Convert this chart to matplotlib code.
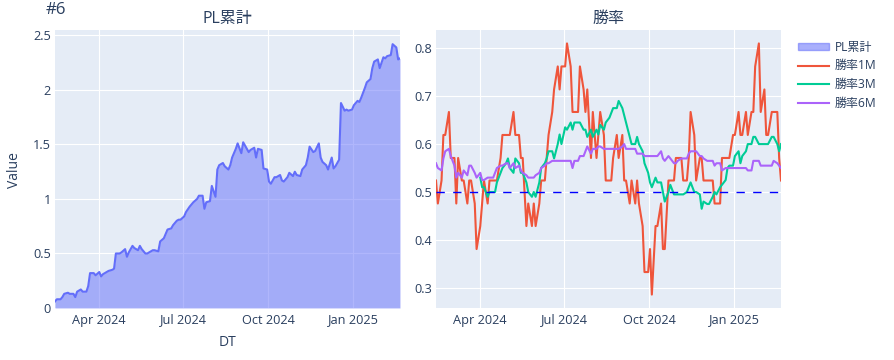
import numpy as np
import pandas as pd
import matplotlib
matplotlib.use('Agg')
import matplotlib.pyplot as plt
import matplotlib.dates as mdates
from matplotlib.patches import Patch
from matplotlib.lines import Line2D
from matplotlib.ticker import FuncFormatter

plt.rcParams['font.family'] = ['Open Sans', 'Noto Sans CJK JP', 'DejaVu Sans']

# every second business day from 2024-02-13
dates = pd.bdate_range('2024-02-13', '2025-02-21')[::2]

pl_cum = [0.06, 0.08, 0.08, 0.10, 0.13, 0.14, 0.13, 0.13, 0.10, 0.15,
          0.17, 0.15, 0.15, 0.20, 0.32, 0.32, 0.30, 0.33, 0.29, 0.31,
          0.33, 0.34, 0.35, 0.36, 0.50, 0.50, 0.51, 0.54, 0.47, 0.51,
          0.57, 0.55, 0.53, 0.57, 0.54, 0.50, 0.50, 0.52, 0.53, 0.53,
          0.52, 0.61, 0.64, 0.68, 0.72, 0.73, 0.76, 0.80, 0.81, 0.81,
          0.84, 0.88, 0.93, 0.95, 0.97, 1.00, 1.03, 1.03, 0.91, 0.97,
          0.98, 1.12, 1.02, 1.27, 1.31, 1.33, 1.30, 1.27, 1.31, 1.38,
          1.46, 1.51, 1.42, 1.52, 1.49, 1.43, 1.45, 1.47, 1.38, 1.46,
          1.45, 1.28, 1.27, 1.16, 1.14, 1.20, 1.20, 1.22, 1.17, 1.16,
          1.20, 1.24, 1.21, 1.25, 1.22, 1.21, 1.27, 1.31, 1.38, 1.48,
          1.43, 1.44, 1.51, 1.38, 1.34, 1.31, 1.27, 1.38, 1.28, 1.30,
          1.36, 1.88, 1.81, 1.82, 1.81, 1.82, 1.86, 1.90, 1.89, 1.93,
          2.02, 2.07, 2.10, 2.20, 2.26, 2.28, 2.20, 2.30, 2.29, 2.31,
          2.32, 2.42, 2.39, 2.28, 2.29]

win_1m = [0.524, 0.476, 0.524, 0.619, 0.619, 0.667, 0.571, 0.571, 0.476, 0.571,
          0.524, 0.524, 0.476, 0.524, 0.524, 0.476, 0.381, 0.429, 0.476, 0.524,
          0.476, 0.524, 0.524, 0.524, 0.524, 0.571, 0.619, 0.619, 0.619, 0.619,
          0.667, 0.619, 0.619, 0.571, 0.571, 0.429, 0.476, 0.429, 0.476, 0.429,
          0.476, 0.524, 0.524, 0.571, 0.619, 0.667, 0.714, 0.762, 0.714, 0.762,
          0.762, 0.810, 0.762, 0.667, 0.667, 0.667, 0.762, 0.714, 0.667, 0.714,
          0.571, 0.667, 0.571, 0.619, 0.667, 0.619, 0.524, 0.524, 0.524, 0.571,
          0.619, 0.571, 0.619, 0.524, 0.524, 0.476, 0.524, 0.476, 0.524, 0.476,
          0.429, 0.333, 0.333, 0.381, 0.286, 0.429, 0.429, 0.476, 0.381, 0.381,
          0.524, 0.524, 0.524, 0.571, 0.571, 0.571, 0.524, 0.524, 0.571, 0.667,
          0.619, 0.524, 0.571, 0.571, 0.524, 0.524, 0.524, 0.524, 0.476, 0.476,
          0.476, 0.571, 0.571, 0.571, 0.571, 0.619, 0.619, 0.667, 0.619, 0.619,
          0.667, 0.619, 0.667, 0.667, 0.762, 0.810, 0.667, 0.714, 0.619, 0.619,
          0.667, 0.667, 0.667, 0.571, 0.524]

win_3m = [np.nan] * 17 + [
          0.53, 0.51, 0.51, 0.49, 0.50, 0.50, 0.50, 0.52, 0.54, 0.55,
          0.56, 0.57, 0.55, 0.54, 0.57, 0.56, 0.54, 0.54, 0.52, 0.50,
          0.49, 0.50, 0.49, 0.52, 0.55, 0.56, 0.57, 0.585, 0.585, 0.57,
          0.60, 0.62, 0.60, 0.635, 0.63, 0.645, 0.63, 0.645, 0.645, 0.645,
          0.63, 0.63, 0.615, 0.63, 0.615, 0.63, 0.62, 0.64, 0.63, 0.645,
          0.655, 0.665, 0.675, 0.675, 0.69, 0.675, 0.66, 0.645, 0.615, 0.60,
          0.60, 0.615, 0.60, 0.585, 0.56, 0.54, 0.52, 0.51, 0.53, 0.52,
          0.52, 0.50, 0.48, 0.50, 0.515, 0.495, 0.495, 0.495, 0.495, 0.495,
          0.50, 0.51, 0.52, 0.50, 0.50, 0.495, 0.465, 0.48, 0.475, 0.475,
          0.49, 0.50, 0.495, 0.51, 0.515, 0.525, 0.55, 0.555, 0.555, 0.575,
          0.585, 0.56, 0.575, 0.585, 0.60, 0.60, 0.615, 0.615, 0.60, 0.60,
          0.60, 0.60, 0.60, 0.615, 0.615, 0.60, 0.585, 0.60]

win_6m = [0.56, 0.55, 0.545, 0.57, 0.585, 0.59, 0.575, 0.555, 0.53, 0.54,
          0.53, 0.545, 0.535, 0.555, 0.555, 0.54, 0.53, 0.54, 0.525, 0.525,
          0.53, 0.53, 0.53, 0.54, 0.55, 0.555, 0.555, 0.56, 0.56, 0.55,
          0.56, 0.55, 0.555, 0.545, 0.54, 0.535, 0.53, 0.53, 0.53, 0.535,
          0.54, 0.55, 0.555, 0.56, 0.56, 0.565, 0.565, 0.565, 0.565, 0.565,
          0.565, 0.565, 0.565, 0.55, 0.565, 0.565, 0.575, 0.575, 0.585, 0.595,
          0.58, 0.59, 0.59, 0.595, 0.595, 0.59, 0.59, 0.59, 0.59, 0.59,
          0.59, 0.59, 0.595, 0.60, 0.59, 0.59, 0.59, 0.59, 0.58, 0.58,
          0.58, 0.575, 0.575, 0.575, 0.575, 0.575, 0.575, 0.585, 0.57, 0.565,
          0.575, 0.57, 0.56, 0.56, 0.565, 0.57, 0.57, 0.57, 0.58, 0.585,
          0.585, 0.585, 0.575, 0.575, 0.57, 0.565, 0.565, 0.565, 0.555, 0.56,
          0.56, 0.545, 0.55, 0.55, 0.55, 0.55, 0.55, 0.55, 0.55, 0.55,
          0.55, 0.545, 0.545, 0.565, 0.565, 0.565, 0.555, 0.555, 0.555, 0.555,
          0.555, 0.565, 0.56, 0.555, 0.55]

month_ticks = ['2024-04-01', '2024-07-01', '2024-10-01', '2025-01-01']
labels = ['PL累計', '勝率1M', '勝率3M', '勝率6M']

bg = '#E5ECF6'
fc = '#2a3f5f'
c_pl, c_1m, c_3m, c_6m = '#636EFA', '#EF553B', '#00CC96', '#AB63FA'
lw = 1.5
fs = 9.2

fig = plt.figure(figsize=(8.94, 3.6), dpi=100)
ax1 = fig.add_axes([55/894, 52/360, 345/894, 278/360])
ax2 = fig.add_axes([436/894, 52/360, 345/894, 278/360])

ax1.fill_between(dates, pl_cum, 0, color=c_pl, alpha=0.5, linewidth=0)
ax1.plot(dates, pl_cum, color=c_pl, lw=lw)
ax1.set_ylim(0, 2.55)
ax1.set_yticks([0, 0.5, 1, 1.5, 2, 2.5])

ax2.plot(dates, win_1m, color=c_1m, lw=lw)
ax2.plot(dates, win_3m, color=c_3m, lw=lw)
ax2.plot(dates, win_6m, color=c_6m, lw=lw)
ax2.axhline(0.5, color='blue', lw=1.0, linestyle=(0, (6, 6)))
ax2.set_ylim(0.258, 0.838)
ax2.set_yticks([0.3, 0.4, 0.5, 0.6, 0.7, 0.8])

for ax in (ax1, ax2):
    ax.set_facecolor(bg)
    ax.set_xlim(dates[0], dates[-1])
    ax.set_xticks(pd.to_datetime(month_ticks))
    ax.xaxis.set_major_formatter(mdates.DateFormatter('%b %Y'))
    ax.yaxis.set_major_formatter(FuncFormatter(lambda v, p: '%g' % round(v, 2)))
    ax.grid(True, color='white', lw=0.8)
    ax.set_axisbelow(True)
    for s in ax.spines.values():
        s.set_visible(False)
    ax.tick_params(length=0, labelsize=fs, labelcolor=fc)
    ax.tick_params(axis='x', pad=4)
    ax.tick_params(axis='y', pad=3)

fig.text(227/894, 1 - 19/360, 'PL累計', ha='center', va='center', fontsize=11.5, color=fc)
fig.text(608/894, 1 - 19/360, '勝率', ha='center', va='center', fontsize=11.5, color=fc)
fig.text(46/894, 1 - 10/360, '#6', ha='left', va='center', fontsize=12.2, color=fc)
fig.text(227/894, 1 - 343/360, 'DT', ha='center', va='center', fontsize=10, color=fc)
fig.text(15/894, 1 - 170/360, 'Value', ha='center', va='center', fontsize=10, color=fc, rotation=90)

handles = [Patch(facecolor=c_pl, alpha=0.55, edgecolor=c_pl),
           Line2D([], [], color=c_1m, lw=lw),
           Line2D([], [], color=c_3m, lw=lw),
           Line2D([], [], color=c_6m, lw=lw)]
leg = fig.legend(handles, labels, loc='upper left', bbox_to_anchor=(793/894, 1 - 36/360),
                 frameon=False, fontsize=8.64, labelcolor=fc, handlelength=2.6,
                 handleheight=0.5, labelspacing=0.47, handletextpad=0.5, borderaxespad=0)

fig.savefig('out.png', dpi=100)
